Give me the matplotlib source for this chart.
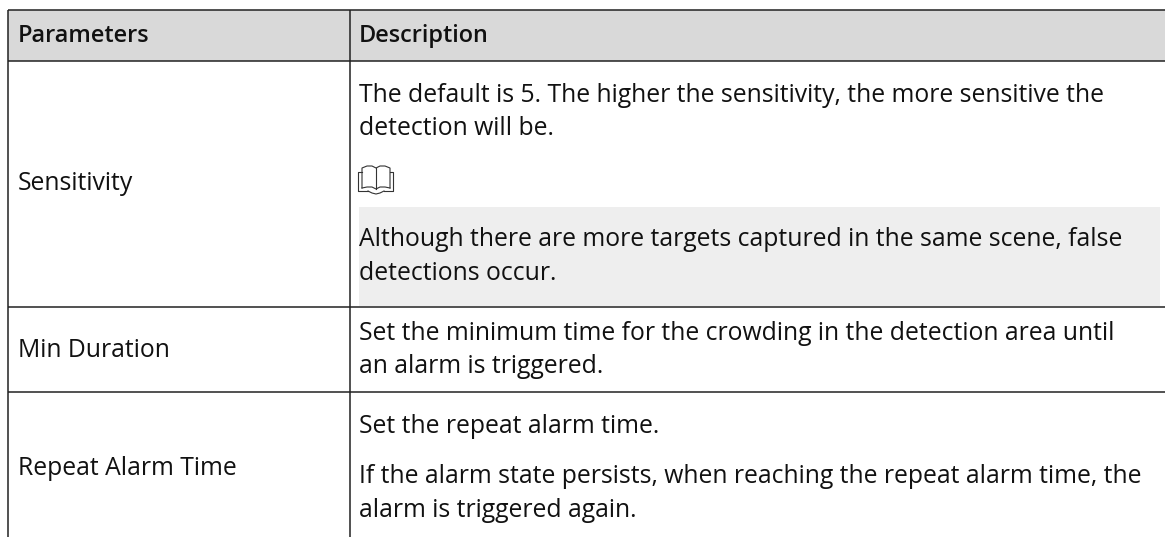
import matplotlib
matplotlib.use('Agg')
import matplotlib.pyplot as plt
from matplotlib.patches import Rectangle

plt.rcParams['font.family'] = ['Open Sans', 'DejaVu Sans']

# textos de la tabla
encabezados = ['Parameters', 'Description']
parametros = ['Sensitivity', 'Min Duration', 'Repeat Alarm Time']
base_parametros = [190, 357, 475]
descripciones = [
    'The default is 5. The higher the sensitivity, the more sensitive the',
    'detection will be.',
    'Although there are more targets captured in the same scene, false',
    'detections occur.',
    'Set the minimum time for the crowding in the detection area until',
    'an alarm is triggered.',
    'Set the repeat alarm time.',
    'If the alarm state persists, when reaching the repeat alarm time, the',
    'alarm is triggered again.',
]
base_descripciones = [102, 135, 246, 280, 340, 373, 433, 483, 517]

tam = 17.8
tam_enc = 16.9
negro = '#111111'

fig = plt.figure(figsize=(11.65, 5.37), dpi=100)
ax = fig.add_axes([0, 0, 1, 1])
ax.set_xlim(0, 1165)
ax.set_ylim(537, 0)
ax.axis('off')

# fondos
ax.add_patch(Rectangle((8, 10), 1157, 51, color='#d9d9d9', lw=0))
ax.add_patch(Rectangle((359, 207), 801, 99, color='#eeeeee', lw=0))

# lineas de la tabla
for y in [10, 61, 307, 392]:
    ax.plot([8, 1165], [y, y], color='#222222', lw=1.1, solid_capstyle='butt')
for x in [8, 350]:
    ax.plot([x, x], [10, 537], color='#222222', lw=1.1, solid_capstyle='butt')

# encabezado
ax.text(18, 42, encabezados[0], fontsize=tam_enc, fontweight='semibold', color=negro, va='baseline')
ax.text(359, 42, encabezados[1], fontsize=tam_enc, fontweight='semibold', color=negro, va='baseline')

for txt, y in zip(parametros, base_parametros):
    ax.text(18, y, txt, fontsize=tam, color=negro, va='baseline')
for txt, y in zip(descripciones, base_descripciones):
    ax.text(359, y, txt, fontsize=tam, color=negro, va='baseline')

# icono del libro
c = '#333333'
ax.plot([362, 358, 358, 368], [172, 172, 191, 191], color=c, lw=0.8)
ax.plot([390, 393, 393, 384], [172, 172, 191, 191], color=c, lw=0.8)
ax.plot([362, 362, 367, 372, 376, 380, 385, 390, 390],
        [188, 168, 166, 166, 168, 166, 166, 168, 188], color=c, lw=0.8)
ax.plot([362, 367, 372, 376, 380, 385, 390],
        [188, 187, 187, 189, 187, 187, 188], color=c, lw=0.8)
ax.plot([376, 376], [168, 189], color=c, lw=0.8)
ax.plot([368, 372, 376, 380, 384], [191, 193, 194, 193, 191], color=c, lw=0.8)

fig.savefig('out.png', dpi=100)
